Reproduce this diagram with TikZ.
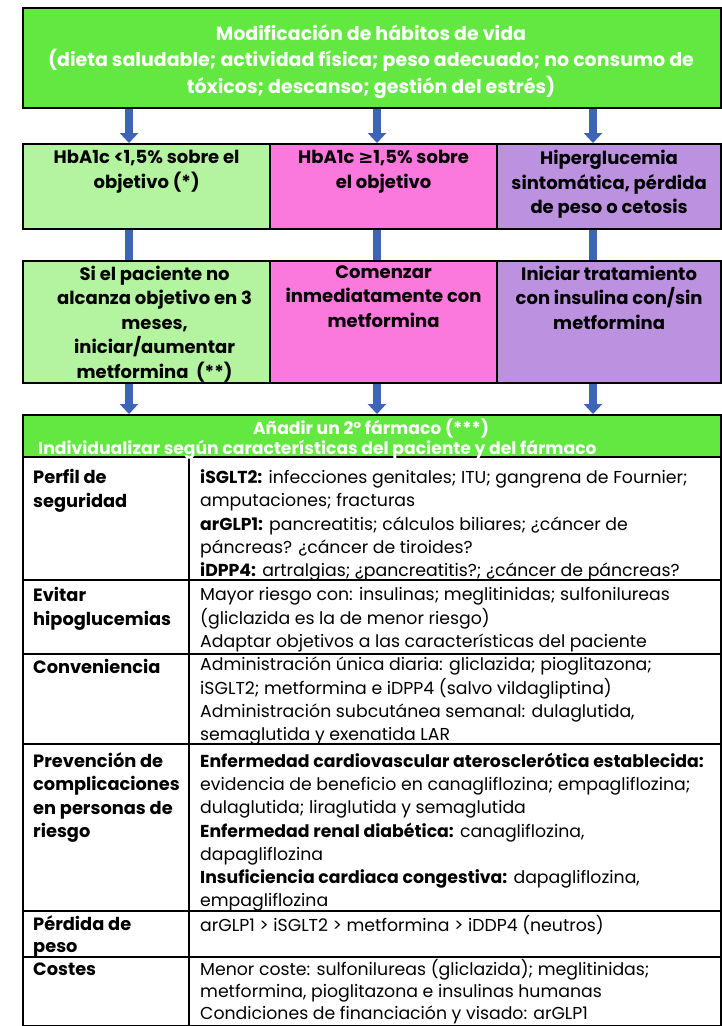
\documentclass[tikz,border=0pt]{standalone}
\usepackage{fontspec}
\setmainfont{Poppins}
\newfontfamily\simbolos{DejaVu Sans}
\usetikzlibrary{arrows.meta,positioning}

\definecolor{verdeFuerte}{RGB}{99,232,66}
\definecolor{verdeClaro}{RGB}{180,243,160}
\definecolor{rosa}{RGB}{251,120,221}
\definecolor{lila}{RGB}{188,145,223}
\definecolor{azulFlecha}{RGB}{62,100,182}

\begin{document}
\begin{tikzpicture}[
		x=1pt,
		y=-1pt,
		line join=miter,
		caja/.style={draw=black, line width=2.2pt, rectangle, inner sep=0pt, anchor=north west},
		flecha/.style={draw=azulFlecha, line width=7.5pt, line cap=butt, -{Triangle[length=10pt,width=18pt]}},
		barra/.style={draw=azulFlecha, line width=7.5pt, line cap=butt},
		rejilla/.style={draw=black, line width=1.4pt},
		titulo/.style={font=\bfseries\fontsize{19}{26.5}\selectfont, text=white, align=center, inner sep=0pt},
		paso/.style={font=\bfseries\fontsize{18}{24.5}\selectfont, align=center, inner sep=0pt, anchor=north,
			execute at begin node=\strut},
		cabeza/.style={font=\bfseries\fontsize{17.8}{23.3}\selectfont, align=left, inner sep=0pt, anchor=north west,
			execute at begin node=\strut},
		cuerpo/.style={font=\fontsize{17.3}{23.3}\selectfont, align=left, inner sep=0pt, anchor=north west,
			execute at begin node=\strut},
		banda/.style={font=\bfseries\fontsize{17.2}{23.5}\selectfont, text=white, inner sep=0pt}
		]
		
		\useasboundingbox (0,0) rectangle (722,1026);
		
		%------------------------------------------------------------------
		% Coordinates
		%------------------------------------------------------------------
		\coordinate (f1) at (129,0);
		\coordinate (f2) at (377,0);
		\coordinate (f3) at (593,0);
		
		%------------------------------------------------------------------
		% Top box
		%------------------------------------------------------------------
		\node[caja, fill=verdeFuerte, minimum width=698pt, minimum height=100pt] (habitos) at (22,7) {};
		\node[titulo] (habitosTxt) at (371,61.5)
		{Modificación de hábitos de vida\\
			(dieta saludable; actividad física; peso adecuado; no consumo de\\
			tóxicos; descanso; gestión del estrés)};
		
		%------------------------------------------------------------------
		% Second row
		%------------------------------------------------------------------
		\node[caja, fill=verdeClaro, minimum width=247pt, minimum height=85pt] (bajo) at (22,143) {};
		\node[caja, fill=rosa, minimum width=227pt, minimum height=85pt] (alto) at (269,143) {};
		\node[caja, fill=lila, minimum width=224pt, minimum height=85pt] (sintom) at (496,143) {};
		
		\node[paso] (bajoTxt) at ([yshift=-7pt]bajo.north) {HbA1c <1,5\% sobre el\\objetivo (*)};
		\node[paso] (altoTxt) at ([yshift=-7pt]alto.north) {HbA1c {\simbolos ≥}1,5\% sobre\\el objetivo};
		\node[paso] (sintomTxt) at ([yshift=-7pt]sintom.north) {Hiperglucemia\\sintomática, pérdida\\de peso o cetosis};
		
		%------------------------------------------------------------------
		% Third row
		%------------------------------------------------------------------
		\node[caja, fill=verdeClaro, minimum width=247pt, minimum height=122pt] (gradual) at (22,260) {};
		\node[caja, fill=rosa, minimum width=227pt, minimum height=122pt] (inmediata) at (269,260) {};
		\node[caja, fill=lila, minimum width=224pt, minimum height=122pt] (insulina) at (496,260) {};
		
		\node[paso] (gradualTxt) at ([xshift=8pt,yshift=-5.5pt]gradual.north)
		{Si el paciente no\\alcanza objetivo en 3\\meses,\\iniciar/aumentar\\metformina\ \ (**)};
		\node[paso] (inmediataTxt) at ([yshift=-5.5pt]inmediata.north)
		{Comenzar\\inmediatamente con\\metformina};
		\node[paso] (insulinaTxt) at ([yshift=-5.5pt]insulina.north)
		{Iniciar tratamiento\\con insulina con/sin\\metformina};
		
		%------------------------------------------------------------------
		% Arrows
		%------------------------------------------------------------------
		\draw[flecha] (habitos.south -| f1) -- (bajo.north -| f1);
		\draw[flecha] (habitos.south -| f2) -- (alto.north -| f2);
		\draw[flecha] (habitos.south -| f3) -- (sintom.north -| f3);
		
		\draw[barra] (bajo.south -| f1) -- (gradual.north -| f1);
		\draw[barra] (alto.south -| f2) -- (inmediata.north -| f2);
		\draw[barra] (sintom.south -| f3) -- (insulina.north -| f3);
		
		%------------------------------------------------------------------
		% Table
		%------------------------------------------------------------------
		\fill[verdeFuerte] (22,414) rectangle (720,457);
		\node[caja, minimum width=698pt, minimum height=610.5pt] (tabla) at (22,414) {};
		
		\draw[flecha] (gradual.south -| f1) -- (tabla.north -| f1);
		\draw[flecha] (inmediata.south -| f2) -- (tabla.north -| f2);
		\draw[flecha] (insulina.south -| f3) -- (tabla.north -| f3);
		
		\foreach \yy in {457,580,654,744,911,957}
		\draw[rejilla] (22,\yy) -- (720,\yy);
		\draw[rejilla] (189,457) -- (tabla.south -| 189,0);
		
		\node[banda] (anadir) at (371,428) {Añadir un 2º fármaco (***)};
		\node[banda, anchor=west] (indiv) at (38,450)
		{Individualizar según características del paciente y del fármaco};
		
		% Rows
		\node[cabeza] (perfilCab) at (33,469.5) {Perfil de\\seguridad};
		\node[cuerpo] (perfilTxt) at (200,469.5)
		{\textbf{iSGLT2:} infecciones genitales; ITU; gangrena de Fournier;\\
			amputaciones; fracturas\\
			\textbf{arGLP1:} pancreatitis; cálculos biliares; ¿cáncer de\\
			páncreas? ¿cáncer de tiroides?\\
			\textbf{iDPP4:} artralgias; ¿pancreatitis?; ¿cáncer de páncreas?};
		
		\node[cabeza] (hipoCab) at (33,587.5) {Evitar\\hipoglucemias};
		\node[cuerpo] (hipoTxt) at (200,587.5)
		{Mayor riesgo con: insulinas; meglitinidas; sulfonilureas\\
			(gliclazida es la de menor riesgo)\\
			Adaptar objetivos a las características del paciente};
		
		\node[cabeza] (convCab) at (33,657) {Conveniencia};
		\node[cuerpo] (convTxt) at (200,657)
		{Administración única diaria: gliclazida; pioglitazona;\\
			iSGLT2; metformina e iDPP4 (salvo vildagliptina)\\
			Administración subcutánea semanal: dulaglutida,\\
			semaglutida y exenatida LAR};
		
		\node[cabeza] (prevCab) at (33,752.5) {Prevención de\\complicaciones\\en personas de\\riesgo};
		\node[cuerpo] (prevTxt) at (200,752.5)
		{\textbf{Enfermedad cardiovascular aterosclerótica establecida:}\\
			evidencia de beneficio en canagliflozina; empagliflozina;\\
			dulaglutida; liraglutida y semaglutida\\
			\textbf{Enfermedad renal diabética:} canagliflozina,\\
			dapagliflozina\\
			\textbf{Insuficiencia cardiaca congestiva:} dapagliflozina,\\
			empagliflozina};
		
		\node[cabeza, font=\bfseries\fontsize{17.8}{22.5}\selectfont] (pesoCab) at (33,915) {Pérdida de\\peso};
		\node[cuerpo] (pesoTxt) at (200,915) {arGLP1 > iSGLT2 > metformina > iDDP4 (neutros)};
		
		\node[cabeza] (costeCab) at (33,959) {Costes};
		\node[cuerpo, font=\fontsize{17.3}{22.3}\selectfont] (costeTxt) at (200,959)
		{Menor coste: sulfonilureas (gliclazida); meglitinidas;\\
			metformina, pioglitazona e insulinas humanas\\
			Condiciones de financiación y visado: arGLP1};
		
	\end{tikzpicture}
\end{document}
